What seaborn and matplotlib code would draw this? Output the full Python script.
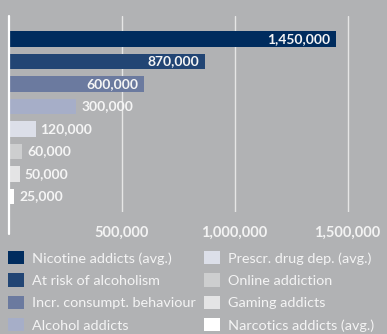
import matplotlib
matplotlib.use("Agg")
import matplotlib.pyplot as plt
from matplotlib.patches import Patch
import seaborn as sns
import pandas as pd

categories = ["Nicotine addicts (avg.)", "At risk of alcoholism", "Incr. consumpt. behaviour",
              "Alcohol addicts", "Prescr. drug dep. (avg.)", "Online addiction",
              "Gaming addicts", "Narcotics addicts (avg.)"]
values = [1450000, 870000, 600000, 300000, 120000, 60000, 50000, 25000]
value_labels = ["1,450,000", "870,000", "600,000", "300,000", "120,000", "60,000", "50,000", "25,000"]
inside = [True, True, True, False, False, False, False, False]
colors = ["#002c5e", "#224574", "#6b7a9f", "#a6aec8", "#dcdfe9", "#cdcecf", "#e4e4e5", "#ffffff"]
xticks = [500000, 1000000, 1500000]
xtick_labels = ["500,000", "1,000,000", "1,500,000"]

BG = "#b1b2b4"
W, H = 387, 334
sns.set_theme(style="white")
plt.rcParams["font.family"] = ["Lato", "DejaVu Sans"]

fig = plt.figure(figsize=(W / 100, H / 100), dpi=100, facecolor=BG)
ax = fig.add_axes([8.5 / W, 1 - 212 / H, 1 - 8.5 / W, (212 - 16) / H])
ax.set_facecolor(BG)

df = pd.DataFrame({"cat": categories, "val": values})
sns.barplot(data=df, x="val", y="cat", hue="cat", palette=colors, orient="h",
            legend=False, width=0.71, saturation=1, linewidth=0, edgecolor="none",
            ax=ax, zorder=3)

ax.set_xlim(0, (W - 8.5) / 113 * 500000)
ax.set_ylim(7.689, -1.022)
ax.set_xticks(xticks)
ax.set_xticklabels(xtick_labels, fontsize=10.5, fontweight="bold", color="#f3f3f3")
ax.tick_params(axis="x", length=0, pad=10)
ax.set_yticks([])
ax.set_xlabel("")
ax.set_ylabel("")
ax.grid(axis="x", color="#e6e6e6", lw=1.0, zorder=1)
for s in ["top", "right", "bottom", "left"]:
    ax.spines[s].set_visible(False)
ax.axvline(0, ymin=-0.112, ymax=1, color="white", lw=1.6, clip_on=False, zorder=5)

for i, (v, lab, ins) in enumerate(zip(values, value_labels, inside)):
    if ins:
        ax.annotate(lab, (v, i), xytext=(-4, 0), textcoords="offset points",
                    ha="right", va="center", fontsize=10, fontweight="bold", color="#f5f5f5")
    else:
        ax.annotate(lab, (v, i), xytext=(3.5, 0), textcoords="offset points",
                    ha="left", va="center", fontsize=10, fontweight="bold", color="#f5f5f5")

handles = [Patch(facecolor=c, edgecolor="none") for c in colors]
common = dict(loc="upper left", frameon=False, handlelength=1.1, handleheight=1.05,
              handletextpad=0.55, labelspacing=0.6, borderpad=0, borderaxespad=0,
              prop={"family": ["Lato", "DejaVu Sans"], "size": 10.4})
leg1 = fig.legend(handles[:4], categories[:4], bbox_to_anchor=(8 / W, 1 - 251 / H), **common)
leg2 = fig.legend(handles[4:], categories[4:], bbox_to_anchor=(204 / W, 1 - 251 / H), **common)
for leg in (leg1, leg2):
    for t in leg.get_texts():
        t.set_color("#f4f4f4")

fig.savefig("out.png", dpi=100, facecolor=BG)
